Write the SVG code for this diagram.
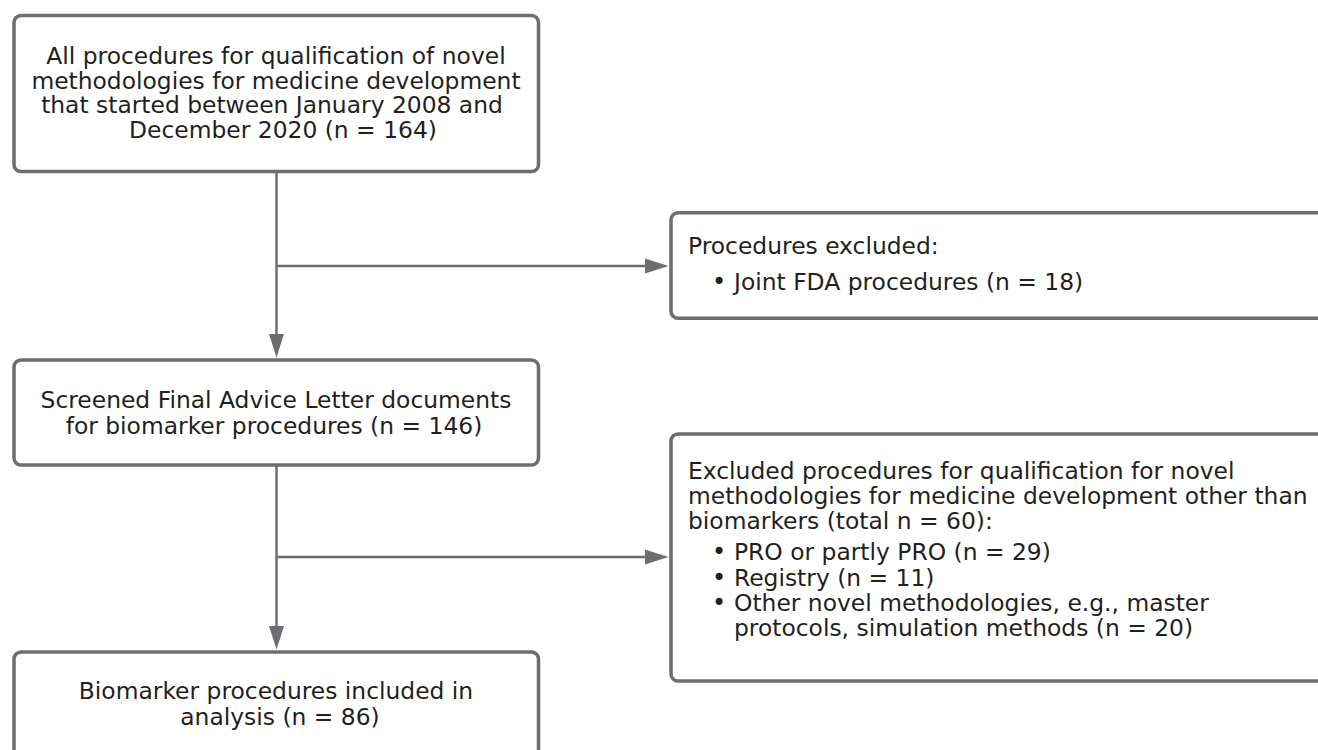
<svg xmlns="http://www.w3.org/2000/svg" width="1318" height="750" viewBox="0 0 1318 750">
  <style>
    .box { fill: #ffffff; stroke: #6d6e71; stroke-width: 3.5; }
    .t { font-family: "DejaVu Sans", Verdana, sans-serif; font-size: 23.4px; fill: #231f20; }
    .c { text-anchor: middle; }
    .b { font-family: "DejaVu Sans", Verdana, sans-serif; font-size: 24px; fill: #231f20; text-anchor: middle; }
    .conn { stroke: #6d6e71; stroke-width: 2.5; fill: none; }
  </style>
  <defs>
    <marker id="arrow" markerUnits="userSpaceOnUse" markerWidth="24" markerHeight="16" viewBox="0 -8 24 16" refX="0" refY="0" orient="auto">
      <path d="M0,-7.5 L23.5,0 L0,7.5 Z" fill="#6d6e71"/>
    </marker>
  </defs>

  <rect width="1318" height="750" fill="#ffffff"/>

  <g id="connectors">
    <line class="conn" x1="276.5" y1="172" x2="276.5" y2="334" marker-end="url(#arrow)"/>
    <line class="conn" x1="276.5" y1="266" x2="645" y2="266" marker-end="url(#arrow)"/>
    <line class="conn" x1="276.5" y1="465" x2="276.5" y2="626" marker-end="url(#arrow)"/>
    <line class="conn" x1="276.5" y1="557" x2="645" y2="557" marker-end="url(#arrow)"/>
  </g>

  <g id="node-all-procedures">
    <rect class="box" x="14" y="15.5" width="524.5" height="156" rx="7"/>
    <text class="t c" x="276" y="63.5">All procedures for qualification of novel</text>
    <text class="t c" x="276" y="88.5">methodologies for medicine development</text>
    <text class="t c" x="272" y="113">that started between January 2008 and</text>
    <text class="t c" x="283" y="137.5">December 2020 (n = 164)</text>
  </g>

  <g id="node-excluded-fda">
    <rect class="box" x="671" y="212.7" width="700" height="105.6" rx="7"/>
    <text class="t" x="688" y="253.5">Procedures excluded:</text>
    <text class="b" x="719" y="290">•</text>
    <text class="t" x="734" y="290">Joint FDA procedures (n = 18)</text>
  </g>

  <g id="node-screened">
    <rect class="box" x="14" y="360" width="524.5" height="105" rx="7"/>
    <text class="t c" x="276" y="407.5">Screened Final Advice Letter documents</text>
    <text class="t c" x="274" y="433.5">for biomarker procedures (n = 146)</text>
  </g>

  <g id="node-excluded-other">
    <rect class="box" x="671" y="434" width="700" height="247" rx="7"/>
    <text class="t" x="688" y="479">Excluded procedures for qualification for novel</text>
    <text class="t" x="688" y="504">methodologies for medicine development other than</text>
    <text class="t" x="688" y="529">biomarkers (total n = 60):</text>
    <text class="b" x="719" y="560">•</text>
    <text class="t" x="734" y="560">PRO or partly PRO (n = 29)</text>
    <text class="b" x="719" y="585.5">•</text>
    <text class="t" x="734" y="585.5">Registry (n = 11)</text>
    <text class="b" x="719" y="611">•</text>
    <text class="t" x="734" y="611">Other novel methodologies, e.g., master</text>
    <text class="t" x="734" y="636">protocols, simulation methods (n = 20)</text>
  </g>

  <g id="node-included">
    <rect class="box" x="14" y="652" width="524.5" height="130" rx="7"/>
    <text class="t c" x="276" y="698.5">Biomarker procedures included in</text>
    <text class="t c" x="280" y="724.5">analysis (n = 86)</text>
  </g>
</svg>
